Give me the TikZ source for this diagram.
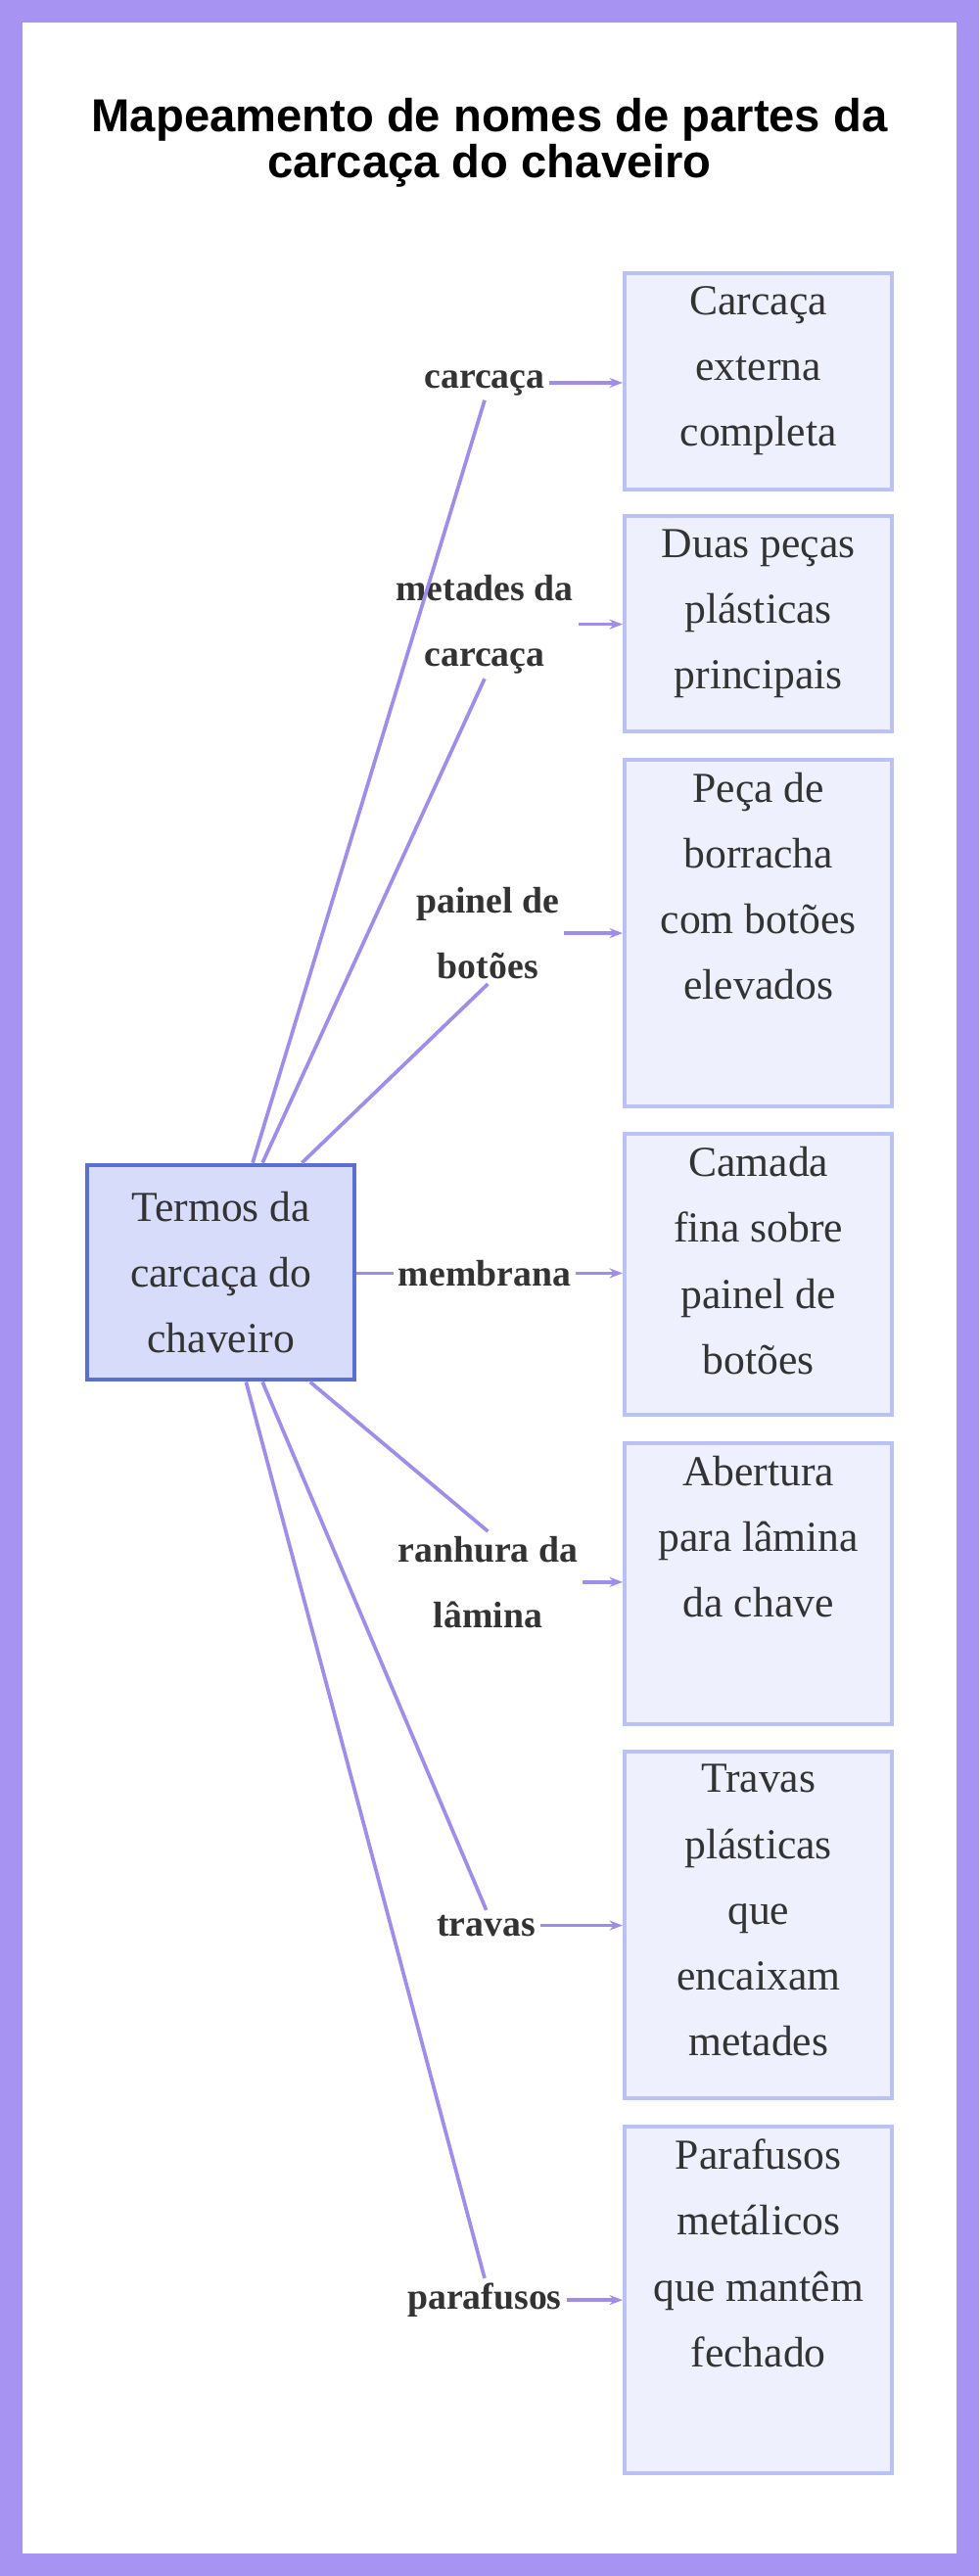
\documentclass[tikz,border=0pt]{standalone}
\usepackage{fontspec}
\setmainfont{Liberation Serif}
\newfontfamily\titlefont{Liberation Sans}
\usetikzlibrary{arrows.meta, calc}
\definecolor{frame}{HTML}{A693F2}
\definecolor{link}{HTML}{A08CEB}
\definecolor{mainfill}{HTML}{D6DCFA}
\definecolor{mainline}{HTML}{5A6FD0}
\definecolor{boxfill}{HTML}{EEF0FD}
\definecolor{boxline}{HTML}{B9C1F5}

\begin{document}
\begin{tikzpicture}[x=0.5mm, y=-0.5mm,
		root/.style={draw=mainline, line width=1.2mm, fill=mainfill, minimum width=81.5mm, align=center,
			font=\fontsize{37}{57}\selectfont, text=black!80},
		leaf/.style={draw=boxline, line width=1.2mm, fill=boxfill, minimum width=81.5mm, anchor=north west},
		leaftext/.style={anchor=north, text width=76mm, align=flush center,
			font=\fontsize{37}{57}\selectfont, text=black!80, inner sep=0pt, yshift=-4.5mm},
		term/.style={fill=white, align=center, font=\fontsize{32}{57}\selectfont\bfseries, text=black!80, inner sep=4pt},
		link/.style={draw=link, line width=1.1mm},
		arr/.style={link, -{Stealth[length=4mm, width=3mm]}}]

	\useasboundingbox (0,0) rectangle (596,1568);
	\fill[frame] (0,0) rectangle (596,1568);
	\fill[white] (14,14) rectangle (582,1554);

	\node[font=\titlefont\bfseries\fontsize{40}{40}\selectfont, align=center] at (298,87)
		{Mapeamento de nomes de partes da\\carcaça do chaveiro};

	% main term
	\node[root, minimum height=65.5mm] (main) at (134.5,774.5) {Termos da\\carcaça do\\chaveiro};

	% target boxes
	\node[leaf, minimum height=66mm] (b1) at (379,165) {};
	\node[leaf, minimum height=65.5mm] (b2) at (379,313) {};
	\node[leaf, minimum height=105.5mm] (b3) at (379,461) {};
	\node[leaf, minimum height=85.5mm] (b4) at (379,689) {};
	\node[leaf, minimum height=85.5mm] (b5) at (379,877) {};
	\node[leaf, minimum height=105.5mm] (b6) at (379,1065) {};
	\node[leaf, minimum height=105.5mm] (b7) at (379,1293) {};
	\node[leaftext] (x1) at (b1.north) {Carcaça\\externa\\completa};
	\node[leaftext] (x2) at (b2.north) {Duas peças\\plásticas\\principais};
	\node[leaftext] (x3) at (b3.north) {Peça de\\borracha\\com botões\\elevados};
	\node[leaftext] (x4) at (b4.north) {Camada\\fina sobre\\painel de\\botões};
	\node[leaftext] (x5) at (b5.north) {Abertura\\para lâmina\\da chave};
	\node[leaftext] (x6) at (b6.north) {Travas\\plásticas\\que\\encaixam\\metades};
	\node[leaftext] (x7) at (b7.north) {Parafusos\\metálicos\\que mantêm\\fechado};

	% terms
	\node[term] (t1) at (295,233) {carcaça};
	\node[term] (t2) at (295,380) {metades da\\carcaça};
	\node[term] (t3) at (297,568) {painel de\\botões};
	\node[term] (t4) at (295,775) {membrana};
	\node[term] (t5) at (297,963) {ranhura da\\lâmina};
	\node[term] (t6) at (296,1172) {travas};
	\node[term] (t7) at (295,1400) {parafusos};

	\draw[link] ($(main.north west)+(102,0)$) -- (t1.south);
	\draw[link] ($(main.north west)+(108,0)$) -- (t2.south);
	\draw[link] ($(main.north west)+(132,0)$) -- (t3.south);
	\draw[link] (main.east |- t4.west) -- (t4.west);
	\draw[link] ($(main.south west)+(137,0)$) -- (t5.north);
	\draw[link] ($(main.south west)+(108,0)$) -- (t6.north);
	\draw[link] ($(main.south west)+(98,0)$) -- (t7.north);

	\foreach \i in {1,...,7}
		\draw[arr] (t\i.east) -- (t\i.east -| b\i.west);
\end{tikzpicture}
\end{document}
